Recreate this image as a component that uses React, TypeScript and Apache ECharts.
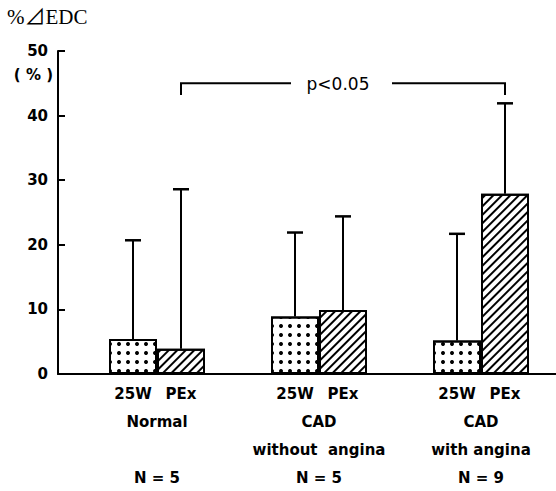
import React, { useEffect, useRef } from 'react';
import * as echarts from 'echarts';

// ---- data ----
const GROUP_NAMES = ['Normal', 'CAD', 'CAD'];
const GROUP_SUBTITLES = ['', 'without  angina', 'with angina'];
const GROUP_N = ['N = 5', 'N = 5', 'N = 9'];
const CONDITIONS = ['25W', 'PEx'];
const MEAN_25W = [5.4, 8.9, 5.2];
const ERR_TOP_25W = [20.7, 21.9, 21.7];
const MEAN_PEX = [3.9, 9.9, 27.9];
const ERR_TOP_PEX = [28.6, 24.4, 41.9];
const Y_TICKS = [0, 10, 20, 30, 40, 50];
const SIG_FROM = 0;
const SIG_TO = 2;
const SIG_LEVEL = 45;
const SIG_DROP = 43.2;
const SIG_LABEL = 'p<0.05';
const Y_UNIT = '( % )';
const TITLE = '%⊿EDC';

// ---- layout ----
const W = 556;
const H = 491;
const GRID_LEFT = 58;
const GRID_TOP = 51;
const GRID_BOTTOM = 117;
const FIRST_CENTER_PX = 157;
const GROUP_SPACING_PX = 162;
const X_MIN = -(FIRST_CENTER_PX - GRID_LEFT) / GROUP_SPACING_PX;
const X_MAX = X_MIN + (W - GRID_LEFT) / GROUP_SPACING_PX;
const BAR_WIDTH = 48;
const SANS = "'DejaVu Sans', 'Liberation Sans', sans-serif";

const DOTS = {
  symbol: 'circle',
  symbolSize: 1,
  dashArrayX: [3.2, 4.8],
  dashArrayY: [3.2, 4.3],
  color: '#000',
  backgroundColor: '#fff',
};
const HATCH = {
  symbol: 'rect',
  symbolSize: 1,
  dashArrayX: [1, 0],
  dashArrayY: [2, 3.5],
  rotation: -Math.PI / 4,
  color: '#000',
  backgroundColor: '#fff',
};

function errorSeries(name: string, means: number[], tops: number[], offset: number) {
  return {
    type: 'custom',
    name,
    z: 5,
    data: means.map((m, i) => [i, m, tops[i]]),
    encode: { x: 0, y: [1, 2] },
    renderItem: (_params: any, api: any) => {
      const x = api.value(0);
      const p0 = api.coord([x, api.value(1)]);
      const p1 = api.coord([x, api.value(2)]);
      const cx = p0[0] + offset;
      return {
        type: 'group',
        children: [
          { type: 'line', shape: { x1: cx, y1: p0[1], x2: cx, y2: p1[1] }, style: { stroke: '#000', lineWidth: 2 } },
          { type: 'line', shape: { x1: cx - 8, y1: p1[1], x2: cx + 8, y2: p1[1] }, style: { stroke: '#000', lineWidth: 2.5 } },
        ],
      };
    },
  };
}

export default function App() {
  const ref = useRef<HTMLDivElement>(null);
  useEffect(() => {
    document.body.style.margin = '0';
    const chart = echarts.init(ref.current!, undefined, { renderer: 'svg' });
    const option: any = {
      animation: false,
      backgroundColor: '#fff',
      title: {
        text: TITLE,
        left: 7,
        top: 6,
        padding: 0,
        textStyle: {
          fontFamily: "'Liberation Serif', 'DejaVu Serif', 'Noto Sans CJK JP', serif",
          fontSize: 21,
          fontWeight: 'normal',
          color: '#000',
        },
      },
      graphic: [
        {
          type: 'text',
          x: 53,
          y: 75,
          style: {
            text: Y_UNIT,
            align: 'right',
            verticalAlign: 'middle',
            fontFamily: SANS,
            fontWeight: 'bold',
            fontSize: 15,
            fill: '#000',
          },
        },
      ],
      grid: { left: GRID_LEFT, right: 0, top: GRID_TOP, bottom: GRID_BOTTOM },
      xAxis: {
        type: 'value',
        min: X_MIN,
        max: X_MAX,
        axisLine: { show: true, onZero: false, lineStyle: { color: '#000', width: 2 } },
        axisTick: { show: false },
        splitLine: { show: false },
        axisLabel: {
          customValues: GROUP_NAMES.map((_, i) => i),
          margin: 6,
          formatter: (v: number) => {
            const i = Math.round(v);
            return [
              `{t|${CONDITIONS[0]}}{t|${CONDITIONS[1]}}`,
              `{g|${GROUP_NAMES[i]}}`,
              `{g|${GROUP_SUBTITLES[i] || ' '}}`,
              `{g|${GROUP_N[i]}}`,
            ].join('\n');
          },
          rich: {
            t: { width: BAR_WIDTH, align: 'center', fontFamily: SANS, fontWeight: 'bold', fontSize: 15, lineHeight: 28, color: '#000' },
            g: { align: 'center', fontFamily: SANS, fontWeight: 'bold', fontSize: 15, lineHeight: 28, color: '#000' },
          },
        },
      },
      yAxis: {
        type: 'value',
        min: Y_TICKS[0],
        max: Y_TICKS[Y_TICKS.length - 1],
        interval: Y_TICKS[1] - Y_TICKS[0],
        axisLine: { show: true, onZero: false, lineStyle: { color: '#000', width: 2 } },
        axisTick: { show: true, inside: true, length: 7, lineStyle: { color: '#000', width: 2 } },
        splitLine: { show: false },
        axisLabel: { color: '#000', fontFamily: SANS, fontWeight: 'bold', fontSize: 15, margin: 10 },
      },
      series: [
        {
          type: 'bar',
          name: CONDITIONS[0],
          data: MEAN_25W.map((v, i) => [i, v]),
          barWidth: BAR_WIDTH,
          barGap: '0%',
          itemStyle: { color: '#fff', borderColor: '#000', borderWidth: 2, decal: DOTS },
        },
        {
          type: 'bar',
          name: CONDITIONS[1],
          data: MEAN_PEX.map((v, i) => [i, v]),
          barWidth: BAR_WIDTH,
          barGap: '0%',
          itemStyle: { color: '#fff', borderColor: '#000', borderWidth: 2, decal: HATCH },
        },
        errorSeries('err25W', MEAN_25W, ERR_TOP_25W, -BAR_WIDTH / 2),
        errorSeries('errPEx', MEAN_PEX, ERR_TOP_PEX, BAR_WIDTH / 2),
        {
          type: 'custom',
          name: 'sig',
          z: 6,
          data: [[SIG_FROM, SIG_TO, SIG_LEVEL, SIG_DROP]],
          encode: { x: [0, 1], y: [2, 3] },
          renderItem: (_params: any, api: any) => {
            const a = api.coord([api.value(0), api.value(2)]);
            const b = api.coord([api.value(1), api.value(2)]);
            const d = api.coord([api.value(0), api.value(3)]);
            const lx = a[0] + BAR_WIDTH / 2;
            const rx = b[0] + BAR_WIDTH / 2;
            const yTop = a[1];
            const yBot = d[1];
            const mid = (lx + rx) / 2;
            const st = { stroke: '#000', lineWidth: 2, fill: 'none' };
            return {
              type: 'group',
              children: [
                { type: 'polyline', shape: { points: [[lx, yBot], [lx, yTop], [mid - 52, yTop]] }, style: st },
                { type: 'polyline', shape: { points: [[mid + 49, yTop], [rx, yTop], [rx, yBot]] }, style: st },
                {
                  type: 'text',
                  x: mid - 5,
                  y: yTop + 1,
                  style: {
                    text: SIG_LABEL,
                    align: 'center',
                    verticalAlign: 'middle',
                    fontFamily: SANS,
                    fontSize: 17,
                    fill: '#000',
                  },
                },
              ],
            };
          },
        },
      ],
    };
    chart.setOption(option);
    return () => chart.dispose();
  }, []);
  return <div ref={ref} style={{ position: 'fixed', left: 0, top: 0, width: W, height: H, background: '#fff' }} />;
}
